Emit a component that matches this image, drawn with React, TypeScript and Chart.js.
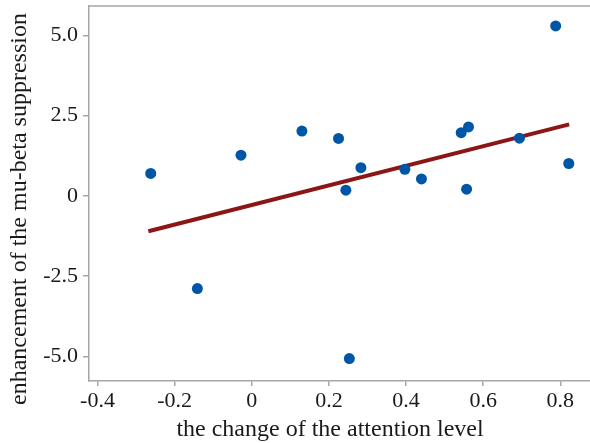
import React, { useEffect, useRef } from "react";
import { Chart, registerables } from "chart.js";

Chart.register(...registerables);

const attention = [-0.262, -0.141, -0.028, 0.13, 0.225, 0.244, 0.253, 0.283, 0.397, 0.44, 0.543, 0.562, 0.557, 0.694, 0.788, 0.822];
const enhancement = [0.7, -2.89, 1.27, 2.02, 1.79, 0.18, -5.07, 0.88, 0.83, 0.53, 1.97, 2.15, 0.21, 1.8, 5.3, 1.01];
const fitX = [-0.268, 0.823];
const fitY = [-1.1, 2.23];
const xTicks = [-0.4, -0.2, 0, 0.2, 0.4, 0.6, 0.8];
const yTicks = [-5, -2.5, 0, 2.5, 5];
const yTickLabels = ["-5.0", "-2.5", "0", "2.5", "5.0"];
const xTitle = "the change of the attention level";
const yTitle = "enhancement of the mu-beta suppression";

const FONT = "'Liberation Serif', 'Times New Roman', serif";
const AXIS = "#a6a6a6";

export default function App() {
  const ref = useRef<HTMLCanvasElement>(null);
  useEffect(() => {
    const canvas = ref.current!;
    const titles = {
      id: "titles",
      afterDraw(chart: any) {
        const ctx = chart.ctx;
        const ca = chart.chartArea;
        ctx.save();
        ctx.strokeStyle = AXIS;
        ctx.lineWidth = 1.5;
        ctx.beginPath();
        ctx.moveTo(ca.left, ca.top);
        ctx.lineTo(chart.width, ca.top);
        ctx.stroke();
        ctx.fillStyle = "#1a1a1a";
        ctx.font = `24px ${FONT}`;
        ctx.textAlign = "center";
        ctx.textBaseline = "middle";
        ctx.fillText(xTitle, 330, 430);
        ctx.translate(20, 209);
        ctx.rotate(-Math.PI / 2);
        ctx.fillText(yTitle, 0, 0);
        ctx.restore();
      },
    };
    const chart = new Chart(canvas, {
      type: "scatter",
      data: {
        datasets: [
          {
            type: "scatter",
            data: attention.map((x, i) => ({ x, y: enhancement[i] })),
            backgroundColor: "#0056a6",
            borderColor: "#0056a6",
            pointRadius: 5.5,
            pointBorderWidth: 0,
          },
          {
            type: "line",
            data: fitX.map((x, i) => ({ x, y: fitY[i] })),
            borderColor: "#8c1515",
            borderWidth: 4,
            pointRadius: 0,
            fill: false,
          } as any,
        ],
      },
      plugins: [titles],
      options: {
        animation: false,
        responsive: false,
        devicePixelRatio: 1,
        layout: { autoPadding: false, padding: { top: 6, right: 0, left: 0, bottom: 0 } },
        plugins: { legend: { display: false }, tooltip: { enabled: false } },
        scales: {
          x: {
            type: "linear",
            min: -0.422,
            max: 0.877,
            afterBuildTicks: (s: any) => {
              s.ticks = xTicks.map((v) => ({ value: v }));
            },
            afterFit: (s: any) => {
              s.height = 62;
              s.paddingLeft = 0;
              s.paddingRight = 0;
            },
            ticks: {
              callback: (v: any) => String(Math.round(Number(v) * 10) / 10),
              font: { family: FONT, size: 22 },
              color: "#1a1a1a",
              padding: 2,
              maxRotation: 0,
              autoSkip: false,
            },
            grid: { drawOnChartArea: false, drawTicks: true, tickLength: 5, color: AXIS, lineWidth: 1.5 },
            border: { display: true, color: AXIS, width: 1.5 },
          },
          y: {
            type: "linear",
            min: -5.77,
            max: 5.92,
            afterBuildTicks: (s: any) => {
              s.ticks = yTicks.map((v) => ({ value: v }));
            },
            afterFit: (s: any) => {
              s.width = 89;
              s.paddingTop = 0;
              s.paddingBottom = 0;
            },
            ticks: {
              callback: (v: any) => yTickLabels[yTicks.indexOf(Number(v))] ?? String(v),
              font: { family: FONT, size: 22 },
              color: "#1a1a1a",
              padding: 5,
              autoSkip: false,
            },
            grid: { drawOnChartArea: false, drawTicks: true, tickLength: 6, color: AXIS, lineWidth: 1.5 },
            border: { display: true, color: AXIS, width: 1.5 },
          },
        },
      },
    });
    return () => chart.destroy();
  }, []);
  return (
    <div style={{ position: "absolute", left: 0, top: 0, width: 590, height: 443, background: "#fff" }}>
      <canvas ref={ref} width={590} height={443} style={{ width: 590, height: 443 }} />
    </div>
  );
}
